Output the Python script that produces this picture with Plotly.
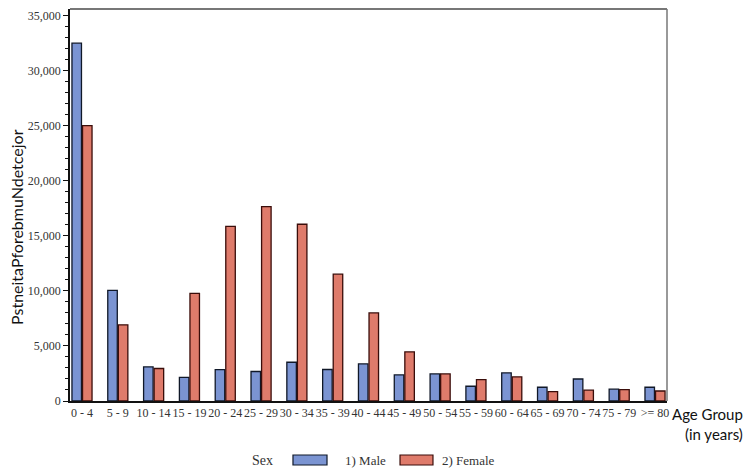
import plotly.graph_objects as go

# age groups and projected counts
age_groups = ["0 - 4", "5 - 9", "10 - 14", "15 - 19", "20 - 24", "25 - 29",
              "30 - 34", "35 - 39", "40 - 44", "45 - 49", "50 - 54", "55 - 59",
              "60 - 64", "65 - 69", "70 - 74", "75 - 79", ">= 80"]
male = [32500, 10050, 3100, 2150, 2850, 2680, 3520, 2860, 3370, 2370,
        2460, 1340, 2550, 1250, 2000, 1070, 1250]
female = [25000, 6920, 2950, 9770, 15850, 17650, 16050, 11520, 8000, 4460,
          2460, 1950, 2190, 860, 980, 1040, 910]
y_ticks = [0, 5000, 10000, 15000, 20000, 25000, 30000, 35000]

serif = "Liberation Serif"
sans = "Lato"
male_fill, male_edge = "#7b94d2", "#101828"
female_fill, female_edge = "#df7b6b", "#3a0d0a"

fig = go.Figure()
fig.add_trace(go.Bar(x=age_groups, y=male, name="1) Male",
                     marker=dict(color=male_fill, line=dict(color=male_edge, width=1.3))))
fig.add_trace(go.Bar(x=age_groups, y=female, name="2) Female",
                     marker=dict(color=female_fill, line=dict(color=female_edge, width=1.3))))

# the page body adds an 8px margin, so the figure is 8px smaller each way
fig.update_layout(
    width=743, height=467,
    margin=dict(l=62, r=84, t=1, b=74),
    paper_bgcolor="white", plot_bgcolor="white",
    barmode="group", bargap=0.41, bargroupgap=0.1,
    font=dict(family=serif, size=12, color="#333"),
    showlegend=False,
    xaxis=dict(type="category", range=[-0.335, 16.335], tickangle=0,
               showline=True, linecolor="#111", linewidth=1.5,
               ticks="", tickfont=dict(family=serif, size=12, color="#333"),
               showgrid=False),
    yaxis=dict(range=[0, 35600], tickvals=y_ticks, tickformat=",d",
               showline=True, linecolor="#111", linewidth=1.5,
               ticks="outside", ticklen=5, tickcolor="#111",
               minor=dict(dtick=1000, ticks="outside", ticklen=3, tickcolor="#111"),
               tickfont=dict(family=serif, size=12, color="#333"),
               showgrid=False, zeroline=False),
)

# gray top and right frame lines
fig.add_shape(type="line", xref="paper", yref="paper", x0=0, x1=1, y0=1, y1=1,
              line=dict(color="#777", width=2))
fig.add_shape(type="line", xref="paper", yref="paper", x0=1, x1=1, y0=0, y1=1,
              line=dict(color="#777", width=1.5))

# y title sits a bit below the plot centre in the original
fig.add_annotation(text="PstneitaPforebmuNdetcejor", xref="paper", yref="paper",
                   x=-0.0888, y=0.444, textangle=-90, showarrow=False,
                   xanchor="center", yanchor="middle",
                   font=dict(family=sans, size=16, color="#111"))

fig.add_annotation(text="Age Group<br>(in years)", xref="paper", yref="paper",
                   x=1.131, xanchor="right", y=0, yanchor="top", yshift=-2,
                   showarrow=False, align="right",
                   font=dict(family=sans, size=15, color="#111"))

# legend drawn below the axis: title, wide swatches, labels
leg_y0, leg_y1 = -0.1378, -0.1633
fig.add_annotation(text="Sex", xref="paper", yref="paper", x=0.3015, xanchor="left",
                   y=(leg_y0 + leg_y1) / 2, yanchor="middle", showarrow=False,
                   font=dict(family=serif, size=14, color="#333"))
for (x0, x1, fill, edge, label, xl) in [
        (0.3735, 0.4305, male_fill, male_edge, "1) Male", 0.4573),
        (0.5528, 0.6080, female_fill, female_edge, "2) Female", 0.6198)]:
    fig.add_shape(type="rect", xref="paper", yref="paper", x0=x0, x1=x1,
                  y0=leg_y0, y1=leg_y1, fillcolor=fill, line=dict(color=edge, width=1.2))
    fig.add_annotation(text=label, xref="paper", yref="paper", x=xl, xanchor="left",
                       y=(leg_y0 + leg_y1) / 2, yanchor="middle", showarrow=False,
                       font=dict(family=serif, size=13, color="#333"))

fig.write_html("out.html")
